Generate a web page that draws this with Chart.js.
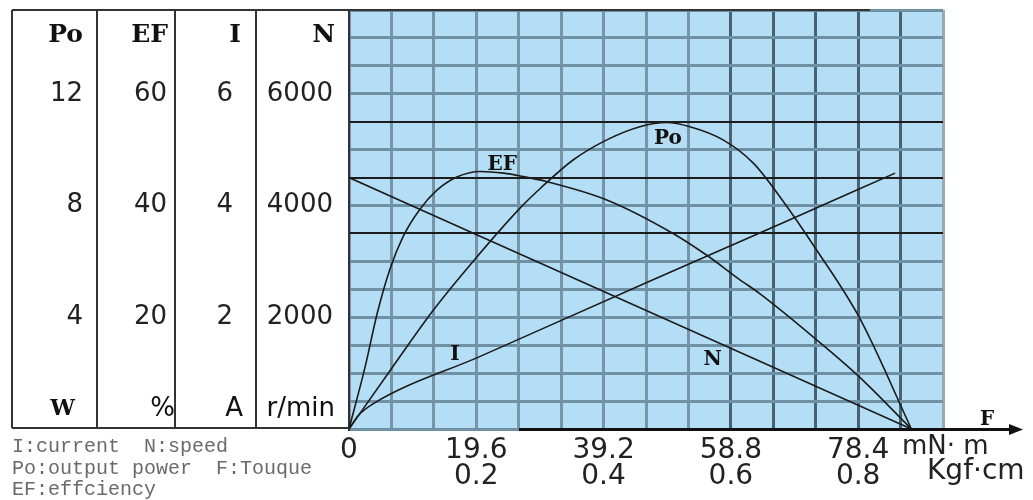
<!DOCTYPE html>
<html>
<head>
<meta charset="utf-8">
<script src="https://cdn.jsdelivr.net/npm/chart.js@4.4.1/dist/chart.umd.min.js"></script>
<style>
  html, body { margin: 0; padding: 0; background: #fff; }
  #wrap { width: 1033px; height: 500px; }
</style>
</head>
<body>
<div id="wrap"><canvas id="chart" width="1033" height="500"></canvas></div>
<script>
// torque axis in mN·m, one grid column = 19.6 / 3
const torqueStep = 19.6 / 3;
const torqueCols = 14;
const torqueLabels = ['0', '19.6', '39.2', '58.8', '78.4'];
const kgfLabels = ['', '0.2', '0.4', '0.6', '0.8'];

// left hand scales
const poTicks = [4, 8, 12];
const efTicks = [20, 40, 60];
const iTicks = [2, 4, 6];
const nTicks = [2000, 4000, 6000];
const nGridStep = 500;
const nDarkLines = [3500, 4500, 5500];

// curves (x = torque mN·m)
const nTorque = [0, 86.6];
const nValues = [4500, 0];

const iTorque = [0, 1.5, 3.7, 20.2, 46.2, 66.4, 84.1];
const iValues = [0, 0.25, 0.45, 1.30, 2.64, 3.67, 4.58];

const efTorque = [0, 2.5, 4.3, 6.3, 8.4, 10.9, 13.5, 16.6, 20.2, 23.8, 26.8, 30.4, 39.7, 49.9, 55.1, 60.2, 63.3, 73.0, 78.7, 86.6];
const efValues = [0, 11.2, 20.5, 28.6, 34.6, 39.3, 42.7, 45.1, 46.1, 45.8, 45.2, 44.3, 41.0, 35.0, 31.1, 26.7, 24.2, 15.0, 9.2, 0];

const poTorque = [0, 6.2, 13.0, 19.1, 26.3, 29.4, 34.5, 39.7, 44.8, 48.9, 52.5, 57.6, 62.3, 66.4, 72.0, 78.7, 86.6];
const poValues = [0, 2.05, 4.26, 6.0, 7.9, 8.6, 9.63, 10.35, 10.82, 10.97, 10.82, 10.35, 9.51, 8.3, 6.41, 3.94, 0];

// curve name tags, anchored in data units
const curveTags = [
  { text: 'EF', axis: 'yEF', x: 23.6, y: 47.3 },
  { text: 'Po', axis: 'yPo', x: 49.1, y: 10.4 },
  { text: 'I', axis: 'yI', x: 16.3, y: 1.32 },
  { text: 'N', axis: 'yN', x: 56.0, y: 1235 }
];

const tableCols = [
  { axis: 'yPo', head: 'Po', unit: 'W', headPad: 14, unitPad: 22, unitBold: true },
  { axis: 'yEF', head: 'EF', unit: '%', headPad: 7, unitPad: 0 },
  { axis: 'yI', head: 'I', unit: 'A', headPad: 15, unitPad: 13 },
  { axis: 'yN', head: 'N', unit: 'r/min', headPad: 14, unitPad: 14 }
];

const legendLines = ['I:current  N:speed', 'Po:output power  F:Touque', 'EF:effciency'];

const SANS = '"DejaVu Sans", sans-serif';
const SERIF = '"DejaVu Serif", serif';
const numFont = { family: SANS, size: 26 };

const pts = (xs, ys) => xs.map((x, i) => ({ x, y: ys[i] }));
const curve = (data, yAxisID) => ({
  data, yAxisID,
  borderColor: '#1b1b1b', borderWidth: 1.6,
  pointRadius: 0, fill: false, cubicInterpolationMode: 'monotone'
});

// keep the plot box where the sheet has it, whatever the labels want
const noPad = s => { s.paddingTop = 0; s.paddingBottom = 0; s.paddingLeft = 0; s.paddingRight = 0; };

function sideAxis(min, max, ticks, width, pad, weight) {
  return {
    type: 'linear', position: 'left', min, max, weight,
    grid: { display: false, drawTicks: false },
    border: { display: false },
    afterBuildTicks: s => { s.ticks = ticks.map(value => ({ value })); },
    afterFit: s => { s.width = width; noPad(s); },
    ticks: { autoSkip: false, padding: pad, color: '#222', font: numFont, callback: v => String(v) }
  };
}

function text(ctx, s, x, y, font, color, align) {
  ctx.font = font;
  ctx.fillStyle = color;
  ctx.textAlign = align || 'left';
  ctx.textBaseline = 'middle';
  ctx.fillText(s, x, y);
}

const sheet = {
  id: 'sheet',
  beforeDraw(chart) {
    const { ctx, chartArea: a } = chart;
    ctx.save();
    ctx.fillStyle = '#b4def5';
    ctx.fillRect(a.left, a.top, a.right - a.left, a.bottom - a.top);
    ctx.restore();
  },
  afterDraw(chart) {
    const { ctx, chartArea: a, scales } = chart;
    const tableLeft = scales.yPo.left;
    ctx.save();
    ctx.strokeStyle = '#333';
    ctx.lineWidth = 2;
    ctx.beginPath();
    ctx.moveTo(tableLeft, a.top); ctx.lineTo(870, a.top);
    ctx.moveTo(tableLeft, a.top); ctx.lineTo(tableLeft, a.bottom - 1);
    ctx.moveTo(tableLeft, a.bottom - 1); ctx.lineTo(a.left, a.bottom - 1);
    tableCols.slice(0, 3).forEach(c => {
      const x = Math.round(scales[c.axis].right);
      ctx.moveTo(x, a.top); ctx.lineTo(x, a.bottom - 1);
    });
    ctx.stroke();

    // torque axis arrow
    ctx.strokeStyle = '#111';
    ctx.lineWidth = 3;
    ctx.beginPath();
    ctx.moveTo(519, a.bottom + 0.5); ctx.lineTo(1012, a.bottom + 0.5);
    ctx.stroke();
    ctx.fillStyle = '#111';
    ctx.beginPath();
    ctx.moveTo(1023, a.bottom + 0.5); ctx.lineTo(1009, a.bottom - 5); ctx.lineTo(1009, a.bottom + 6);
    ctx.closePath(); ctx.fill();

    tableCols.forEach(c => {
      const r = scales[c.axis].right;
      text(ctx, c.head, r - c.headPad, a.top + 25, 'bold 25px ' + SERIF, '#111', 'right');
      text(ctx, c.unit, r - c.unitPad, a.bottom - 20,
        c.unitBold ? 'bold 22px ' + SERIF : '26px ' + SANS, '#111', 'right');
    });

    curveTags.forEach(t => {
      text(ctx, t.text, scales.x.getPixelForValue(t.x), scales[t.axis].getPixelForValue(t.y),
        'bold 20px ' + SERIF, '#111', 'center');
    });

    text(ctx, 'F', 987, a.bottom - 9, 'bold 20px ' + SERIF, '#111', 'center');
    text(ctx, 'mN\u00b7 m', 902, a.bottom + 18, '26px ' + SANS, '#222', 'left');
    text(ctx, 'Kgf\u00b7cm', 927, a.bottom + 43, '28px ' + SANS, '#222', 'left');

    legendLines.forEach((s, i) => {
      text(ctx, s, tableLeft, a.bottom + 18 + i * 21.5, '20px "Liberation Mono", monospace', '#6a6a6a', 'left');
    });
    ctx.restore();
  }
};

new Chart(document.getElementById('chart'), {
  type: 'line',
  data: {
    datasets: [
      curve(pts(nTorque, nValues), 'yN'),
      curve(pts(iTorque, iValues), 'yI'),
      curve(pts(efTorque, efValues), 'yEF'),
      curve(pts(poTorque, poValues), 'yPo')
    ]
  },
  options: {
    responsive: false,
    animation: false,
    layout: { padding: { left: 12, top: 10, right: 90, bottom: 0 } },
    plugins: { legend: { display: false }, tooltip: { enabled: false } },
    scales: {
      x: {
        type: 'linear', min: 0, max: torqueStep * torqueCols,
        afterBuildTicks: s => {
          s.ticks = Array.from({ length: torqueCols + 1 }, (_, i) => ({ value: i * torqueStep }));
        },
        afterFit: s => { s.height = 71; noPad(s); },
        grid: {
          drawTicks: false,
          lineWidth: 3,
          color: c => c.index === torqueCols ? '#9aa8b0' : c.index >= 9 ? '#4a6270' : '#7895a8'
        },
        border: { display: false },
        ticks: {
          autoSkip: false, maxRotation: 0, padding: 9, color: '#222',
          font: { family: SANS, size: 28, lineHeight: 0.93 },
          callback: (v, i) => {
            if (i % 3 !== 0 || i / 3 >= torqueLabels.length) return '';
            const k = i / 3;
            return k === 0 ? torqueLabels[0] : [torqueLabels[k], kgfLabels[k]];
          }
        }
      },
      yPo: sideAxis(0, 15, poTicks, 85, 14, 4),
      yEF: sideAxis(0, 75, efTicks, 78, 8, 3),
      yI: sideAxis(0, 7.5, iTicks, 81, 23, 2),
      yN: {
        type: 'linear', position: 'left', min: 0, max: 7500, weight: 1,
        afterBuildTicks: s => {
          s.ticks = Array.from({ length: 7500 / nGridStep + 1 }, (_, i) => ({ value: i * nGridStep }));
        },
        afterFit: s => { s.width = 93; noPad(s); },
        grid: {
          drawTicks: false,
          color: c => nDarkLines.includes(c.tick.value) ? '#1c1c1c' : '#7090a4',
          lineWidth: c => nDarkLines.includes(c.tick.value) ? 2 : 3
        },
        border: { display: true, color: '#333', width: 2 },
        ticks: {
          autoSkip: false, padding: 16, color: '#222', font: numFont,
          callback: v => nTicks.includes(v) ? String(v) : ''
        }
      }
    }
  },
  plugins: [sheet]
});
</script>
</body>
</html>
